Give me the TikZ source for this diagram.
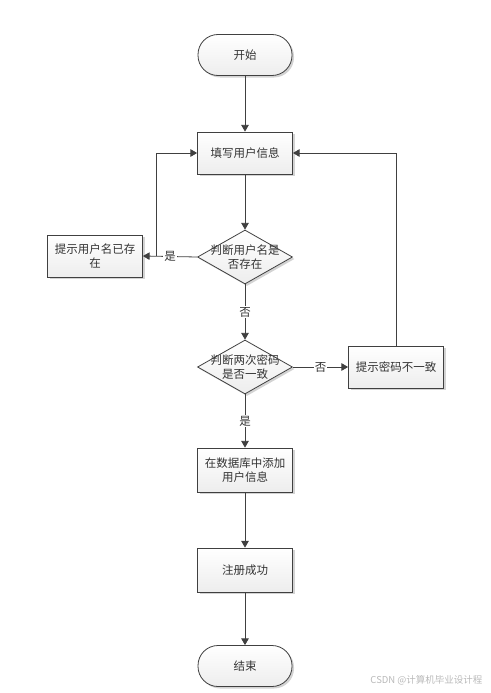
\documentclass[tikz,border=0pt]{standalone}
\usepackage{fontspec}
\usepackage{tikz}
\usetikzlibrary{arrows}
\usetikzlibrary{shapes.geometric}
\usetikzlibrary{shadows}
\newfontfamily\cjk{Noto Sans CJK SC}
\definecolor{linegray}{RGB}{64,64,64}
\definecolor{textgray}{RGB}{51,51,51}

\begin{document}
\begin{tikzpicture}[x=1pt,y=-1pt,
    every node/.style={font=\cjk\fontsize{11.5}{14.5}\selectfont, text=textgray},
    boxstyle/.style={draw=linegray, line width=0.8pt, top color=white, bottom color=gray!14,
      minimum width=95pt, minimum height=42pt, align=center, inner sep=2pt,
      drop shadow={shadow xshift=2pt, shadow yshift=-2pt, opacity=0.35}},
    termstyle/.style={boxstyle, rounded corners=20pt, minimum height=41pt, minimum width=94pt},
    decision/.style={draw=linegray, line width=0.8pt, diamond, aspect=1.77, inner sep=0pt,
      minimum width=95pt, minimum height=54pt, top color=white, bottom color=gray!14,
      drop shadow={shadow xshift=2pt, shadow yshift=-2pt, opacity=0.35}},
    flow/.style={draw=linegray, line width=0.8pt, -triangle 60},
    answer/.style={fill=white, inner sep=1pt}]
  \useasboundingbox (0,0) rectangle (490,693);
  % start and end
  \node[termstyle] (start) at (245,55) {开始};
  \node[termstyle] (stop) at (245,666) {结束};
  % fill in user info
  \node[boxstyle] (fill) at (245,153) {填写用户信息};
  % check user name
  \node[decision] (checkname) at (245,257) {};
  \node at (checkname) [align=center] {判断用户名是\\否存在};
  \node[boxstyle] (nameexists) at (95,256) {提示用户名已存\\在};
  % check passwords
  \node[decision] (checkpwd) at (245,367) {};
  \node at (checkpwd) [align=center] {判断两次密码\\是否一致};
  \node[boxstyle] (pwdmismatch) at (396,367) {提示密码不一致};
  % save and finish
  \node[boxstyle, minimum height=44pt] (adduser) at (245,470) {在数据库中添加\\用户信息};
  \node[boxstyle, minimum height=44pt] (success) at (245,570) {注册成功};
  % lines
  \draw[flow] (start) -- (fill);
  \draw[flow] (fill) -- (checkname);
  \draw[flow] (checkname.west) -- (nameexists.east) node[answer, midway] {是};
  \coordinate (nameloop) at (156,256);
  \draw[flow] (nameloop) |- (fill.west);
  \draw[flow] (checkname) -- (checkpwd) node[answer, midway] {否};
  \draw[flow] (checkpwd.east) -- (pwdmismatch.west) node[answer, midway] {否};
  \draw[flow] (pwdmismatch.north) |- (fill.east);
  \draw[flow] (checkpwd) -- (adduser) node[answer, midway] {是};
  \draw[flow] (adduser) -- (success);
  \draw[flow] (success) -- (stop);
  % watermark
  \node[font=\cjk\fontsize{9.5}{11}\selectfont, text=gray!55, anchor=east] (mark) at (486,680) {CSDN @计算机毕业设计程};
\end{tikzpicture}
\end{document}
